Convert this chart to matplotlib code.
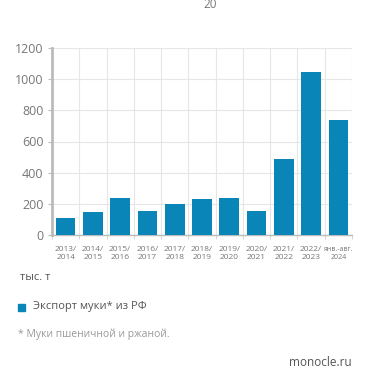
import matplotlib.pyplot as plt
import numpy as np

plt.rcParams['font.family'] = ['Open Sans', 'DejaVu Sans']

# данные
labels = ['2013/\n2014', '2014/\n2015', '2015/\n2016', '2016/\n2017', '2017/\n2018',
          '2018/\n2019', '2019/\n2020', '2020/\n2021', '2021/\n2022', '2022/\n2023',
          'янв.-авг.\n2024']
values = [107, 147, 235, 152, 199, 229, 235, 152, 488, 1045, 737]
yticks = [0, 200, 400, 600, 800, 1000, 1200]

blue = '#0a85b8'
gray = '#777777'

fig = plt.figure(figsize=(3.71, 3.85), dpi=100)
ax = fig.add_axes([52/371, 1 - 235/385, 300/371, 187/385])

x = np.arange(len(values))
ax.bar(x, values, width=0.72, color=blue, zorder=3)

ax.set_xlim(-0.5, len(values) - 0.5)
ax.set_ylim(0, 1200)
ax.set_yticks(yticks)
ax.set_yticklabels([str(v) for v in yticks], fontsize=9, color=gray)
ax.set_xticks(x)
ax.set_xticklabels(labels, fontsize=6, color=gray, linespacing=1.1)
ax.get_xticklabels()[-1].set_fontsize(5)
ax.tick_params(axis='x', length=0, pad=8)
ax.tick_params(axis='y', length=3, color='#bbbbbb', pad=3)

# вертикальная сетка по границам категорий
ax.set_xticks(np.arange(-0.5, len(values) + 0.5, 1), minor=True)
ax.tick_params(axis='x', which='minor', length=3, color='#cccccc')
ax.grid(True, which='minor', axis='x', color='#e6e6e6', lw=0.8, zorder=0)
ax.grid(True, which='major', axis='y', color='#e6e6e6', lw=0.8, zorder=0)

for s in ['top', 'right']:
    ax.spines[s].set_visible(False)
ax.spines['left'].set_color('#bbbbbb')
ax.spines['left'].set_linewidth(2)
ax.spines['bottom'].set_color('#bbbbbb')
ax.spines['bottom'].set_linewidth(1)

fig.text(210/371, 1 - 5/385, '20', fontsize=8.5, color=gray, ha='center', va='center')
fig.text(20/371, 1 - 278/385, 'тыс. т', fontsize=8, color='#555555', ha='left', va='center')
fig.patches.append(plt.Rectangle((18/371, 1 - 311/385), 7/371, 7/385,
                                 transform=fig.transFigure, color=blue))
fig.text(33/371, 1 - 307/385, 'Экспорт муки* из РФ', fontsize=8, color='#555555',
         ha='left', va='center')
fig.text(18/371, 1 - 334/385, '* Муки пшеничной и ржаной.', fontsize=7.5, color='#999999',
         ha='left', va='center')
fig.text(352/371, 1 - 362/385, 'monocle.ru', fontsize=8.5, color='#555555',
         ha='right', va='center')

fig.savefig('out.png', dpi=100)
